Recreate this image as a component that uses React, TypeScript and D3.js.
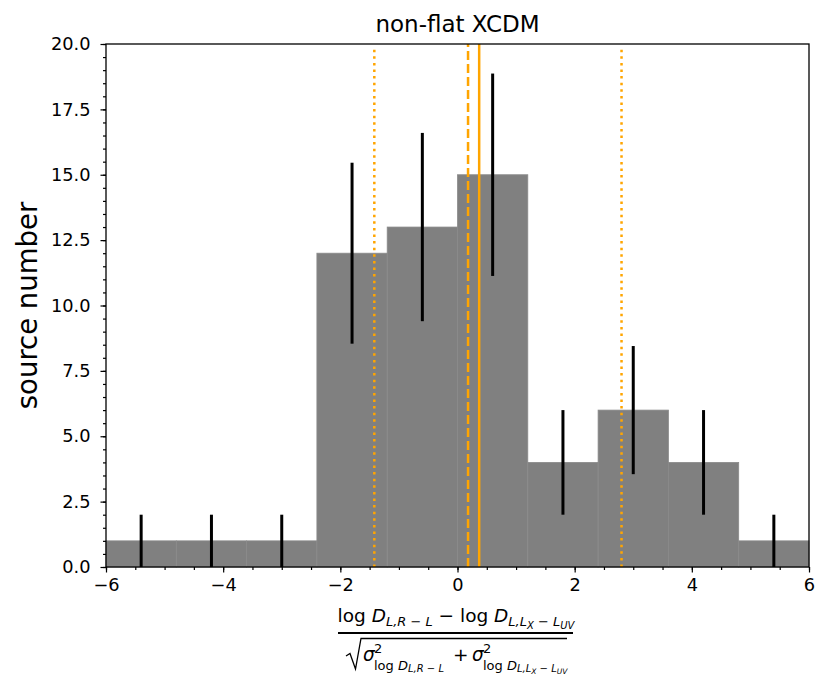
import { useEffect, useRef } from 'react'
import * as d3 from 'd3'

// histogram bins (edges) and counts
const binEdges = [-6, -4.8, -3.6, -2.4, -1.2, 0, 1.2, 2.4, 3.6, 4.8, 6]
const counts = [1, 1, 1, 12, 13, 15, 4, 6, 4, 1]
// poisson error half-lengths
const errors = [1, 1, 1, 3.46, 3.6, 3.87, 2, 2.45, 2, 1]

// orange reference lines
const medianLine = 0.37
const meanLine = 0.18
const sigmaLines = [-1.42, 2.8]

const xTicks = [-6, -4, -2, 0, 2, 4, 6]
const yTicks = [0, 2.5, 5, 7.5, 10, 12.5, 15, 17.5, 20]

const W = 830
const H = 687
const M = { left: 106, right: 809, top: 44, bottom: 567 }
const FONT = 'DejaVu Sans, sans-serif'

const App = () => {
    const ref = useRef<SVGGElement | null>(null)

    useEffect(() => {
        if (!ref.current) return
        const svg = d3.select(ref.current)
        svg.selectAll('*').remove()

        const x = d3.scaleLinear().domain([-6, 6]).range([M.left, M.right])
        const y = d3.scaleLinear().domain([0, 20]).range([M.bottom, M.top])

        const bins = counts.map((c, i) => ({
            x0: binEdges[i],
            x1: binEdges[i + 1],
            c,
            e: errors[i],
        }))

        // bars
        svg.append('g')
            .selectAll('rect')
            .data(bins)
            .join('rect')
            .attr('x', d => x(d.x0))
            .attr('y', d => y(d.c))
            .attr('width', d => x(d.x1) - x(d.x0))
            .attr('height', d => y(0) - y(d.c))
            .attr('fill', '#808080')
            .attr('stroke', '#8a8a8a')
            .attr('stroke-width', 0.8)

        // error bars
        svg.append('g')
            .selectAll('line')
            .data(bins)
            .join('line')
            .attr('x1', d => x((d.x0 + d.x1) / 2))
            .attr('x2', d => x((d.x0 + d.x1) / 2))
            .attr('y1', d => y(d.c - d.e))
            .attr('y2', d => y(d.c + d.e))
            .attr('stroke', 'black')
            .attr('stroke-width', 3)

        // orange lines
        const vl = svg.append('g')
        vl.append('line')
            .attr('x1', x(medianLine)).attr('x2', x(medianLine))
            .attr('y1', y(0)).attr('y2', y(20))
            .attr('stroke', 'orange').attr('stroke-width', 2.5)
        vl.append('line')
            .attr('x1', x(meanLine)).attr('x2', x(meanLine))
            .attr('y1', y(0)).attr('y2', y(20))
            .attr('stroke', 'orange').attr('stroke-width', 2.5)
            .attr('stroke-dasharray', '9,4')
        vl.selectAll('line.sig')
            .data(sigmaLines)
            .join('line')
            .attr('class', 'sig')
            .attr('x1', d => x(d)).attr('x2', d => x(d))
            .attr('y1', y(0)).attr('y2', y(20) + 2)
            .attr('stroke', 'orange').attr('stroke-width', 2.5)
            .attr('stroke-dasharray', '2.5,4.1')

        // frame
        svg.append('rect')
            .attr('x', M.left).attr('y', M.top)
            .attr('width', M.right - M.left).attr('height', M.bottom - M.top)
            .attr('fill', 'none').attr('stroke', 'black').attr('stroke-width', 1.3)

        // x axis
        const xa = svg.append('g')
            .attr('transform', `translate(0,${M.bottom})`)
            .call(d3.axisBottom(x).tickValues(xTicks).tickSize(5.5).tickPadding(6)
                .tickFormat(d => d3.format('d')(d as number).replace('-', '\u2212')))
        xa.append('g').call(d3.axisBottom(x).tickValues(d3.range(-6, 6.01, 0.5)).tickSize(3).tickFormat(() => ''))
        // y axis
        const ya = svg.append('g')
            .attr('transform', `translate(${M.left},0)`)
            .call(d3.axisLeft(y).tickValues(yTicks).tickSize(5.5).tickPadding(10)
                .tickFormat(d => d3.format('.1f')(d as number)))
        ya.append('g').call(d3.axisLeft(y).tickValues(d3.range(0, 20.01, 0.5)).tickSize(3).tickFormat(() => ''))
        svg.selectAll('.domain').remove()
        svg.selectAll('.tick line').attr('stroke', 'black').attr('stroke-width', 1.2)
        svg.selectAll('.tick text')
            .attr('font-family', FONT).attr('font-size', 17.8).attr('fill', 'black')

        // title
        svg.append('text')
            .attr('x', (M.left + M.right) / 2).attr('y', 32)
            .attr('text-anchor', 'middle')
            .attr('font-family', FONT).attr('font-size', 23)
            .text('non-flat XCDM')

        // y label
        svg.append('text')
            .attr('transform', `translate(37,${(M.top + M.bottom) / 2}) rotate(-90)`)
            .attr('text-anchor', 'middle')
            .attr('font-family', FONT).attr('font-size', 27.5)
            .text('source number')
    }, [])

    const big = 18.5
    const sm = 13
    const tiny = 10
    return (
        <div>
            <svg width={W} height={H} style={{ display: 'block', marginTop: -8, marginLeft: -8 }}>
                <g ref={ref} />
                <g fontFamily={FONT}>
                    {/* numerator */}
                    <text x={456} y={622} textAnchor="middle" fontSize={big}>
                        <tspan>log </tspan>
                        <tspan fontStyle="italic">D</tspan>
                        <tspan fontSize={sm} fontStyle="italic" dy={4}>L,R − L</tspan>
                        <tspan dy={-4}> − log </tspan>
                        <tspan fontStyle="italic">D</tspan>
                        <tspan fontSize={sm} fontStyle="italic" dy={4}>L,L</tspan>
                        <tspan fontSize={tiny} fontStyle="italic" dy={3}>X</tspan>
                        <tspan fontSize={sm} fontStyle="italic" dy={-3}> − L</tspan>
                        <tspan fontSize={tiny} fontStyle="italic" dy={3}>UV</tspan>
                    </text>
                    <line x1={338} x2={573} y1={633} y2={633} stroke="black" strokeWidth={1.8} />
                    {/* denominator: radical sign */}
                    <path d="M346,656 L350,653.5 L355.5,669 L361,638.5 L567,638.5"
                        fill="none" stroke="black" strokeWidth={1.3} strokeLinejoin="miter" />
                    <text x={363} y={661} fontSize={big} fontStyle="italic">σ</text>
                    <text x={374} y={653} fontSize={sm}>2</text>
                    <text x={374} y={670} fontSize={sm}>
                        <tspan>log </tspan>
                        <tspan fontStyle="italic">D</tspan>
                        <tspan fontSize={tiny} fontStyle="italic" dy={2}>L,R − L</tspan>
                    </text>
                    <text x={453} y={661} fontSize={big}>+</text>
                    <text x={472} y={661} fontSize={big} fontStyle="italic">σ</text>
                    <text x={483} y={653} fontSize={sm}>2</text>
                    <text x={483} y={670} fontSize={sm}>
                        <tspan>log </tspan>
                        <tspan fontStyle="italic">D</tspan>
                        <tspan fontSize={tiny} fontStyle="italic" dy={2}>L,L</tspan>
                        <tspan fontSize={7.5} fontStyle="italic" dy={2}>X</tspan>
                        <tspan fontSize={tiny} fontStyle="italic" dy={-2}> − L</tspan>
                        <tspan fontSize={7.5} fontStyle="italic" dy={2}>UV</tspan>
                    </text>
                </g>
            </svg>
        </div>
    )
}

export default App
